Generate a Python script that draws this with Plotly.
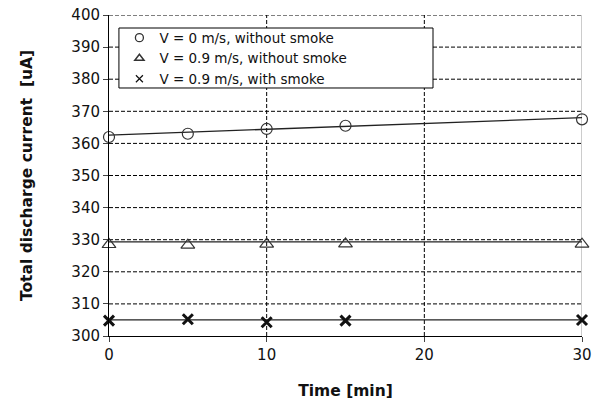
import plotly.graph_objects as go

time_min = [0, 5, 10, 15, 30]
v0_no_smoke = [362.0, 363.0, 364.5, 365.5, 367.5]
v09_no_smoke = [328.5, 328.3, 328.6, 328.7, 328.6]
v09_smoke = [304.8, 305.2, 304.3, 304.8, 305.0]

trend_x = [0, 30]
trend_v0 = [362.6, 368.0]
trend_v09 = [329.3, 329.3]
trend_smoke = [305.0, 305.0]

x_ticks = [0, 10, 20, 30]
y_ticks = list(range(300, 401, 10))

names = ["V = 0 m/s, without smoke", "V = 0.9 m/s, without smoke", "V = 0.9 m/s, with smoke"]

FONT = "DejaVu Sans, Liberation Sans, Arial, sans-serif"

fig = go.Figure()
for ty in [trend_v0, trend_v09, trend_smoke]:
    fig.add_trace(go.Scatter(x=trend_x, y=ty, mode="lines", line=dict(color="#222", width=1.3),
                             showlegend=False, hoverinfo="skip", cliponaxis=False))

series = [
    (v0_no_smoke, "circle-open", 11, 1.2, "#333", 8, 1.3),
    (v09_no_smoke, "triangle-up-open", 12, 1.2, "#333", 8, 1.5),
    (v09_smoke, "x-thin-open", 10, 3, "#111", 7, 1.2),
]
for (vals, sym, sz, lw, col, lsz, llw), nm in zip(series, names):
    fig.add_trace(go.Scatter(x=time_min, y=vals, mode="markers", name=nm, showlegend=False,
                             cliponaxis=False,
                             marker=dict(symbol=sym, size=sz, color=col, line=dict(width=lw, color=col))))
    # legend entry with the smaller symbol used in the reference legend
    fig.add_trace(go.Scatter(x=[None], y=[None], mode="markers", name=nm, showlegend=True,
                             marker=dict(symbol=sym, size=lsz, color=col, line=dict(width=llw, color=col))))

shapes = []
for yv in y_ticks[1:]:
    shapes.append(dict(type="line", xref="x", yref="y", x0=0, x1=30, y0=yv, y1=yv,
                       line=dict(color="#000", width=1, dash="4px,2px"), layer="below"))
for xv in x_ticks[1:3]:
    shapes.append(dict(type="line", xref="x", yref="y", x0=xv, x1=xv, y0=300, y1=400,
                       line=dict(color="#000", width=1, dash="4px,2px"), layer="below"))
shapes.append(dict(type="line", xref="x", yref="y", x0=30, x1=30, y0=300, y1=400,
                   line=dict(color="#999", width=1), layer="below"))
# legend frame
shapes.append(dict(type="rect", xref="paper", yref="paper", x0=0.021, x1=0.685, y0=0.7726, y1=0.9595,
                   line=dict(color="#000", width=1), fillcolor="white", layer="above"))

fig.update_layout(
    width=604, height=407,
    margin=dict(l=109, r=22, t=15, b=71, autoexpand=False),
    paper_bgcolor="white", plot_bgcolor="white",
    font=dict(family=FONT, size=15, color="#111"),
    shapes=shapes,
    legend=dict(x=0.022, y=0.977, xanchor="left", yanchor="top", borderwidth=0,
                bgcolor="rgba(0,0,0,0)", font=dict(size=13.5), itemsizing="trace"),
    showlegend=True,
)
fig.update_xaxes(range=[0, 30], tickvals=x_ticks, ticks="outside", ticklen=5, showgrid=False,
                 showline=True, linecolor="#000", linewidth=1, zeroline=False, automargin=False,
                 title=dict(text="<b>Time [min]</b>", font=dict(size=15.5), standoff=22))
fig.update_yaxes(range=[300, 400], tickvals=y_ticks, ticks="outside", ticklen=5, showgrid=False,
                 showline=True, linecolor="#000", linewidth=1, zeroline=False, automargin=False,
                 title=dict(text="<b>Total discharge current  [uA]</b>", font=dict(size=15.5), standoff=34))

fig.write_html("out.html")
